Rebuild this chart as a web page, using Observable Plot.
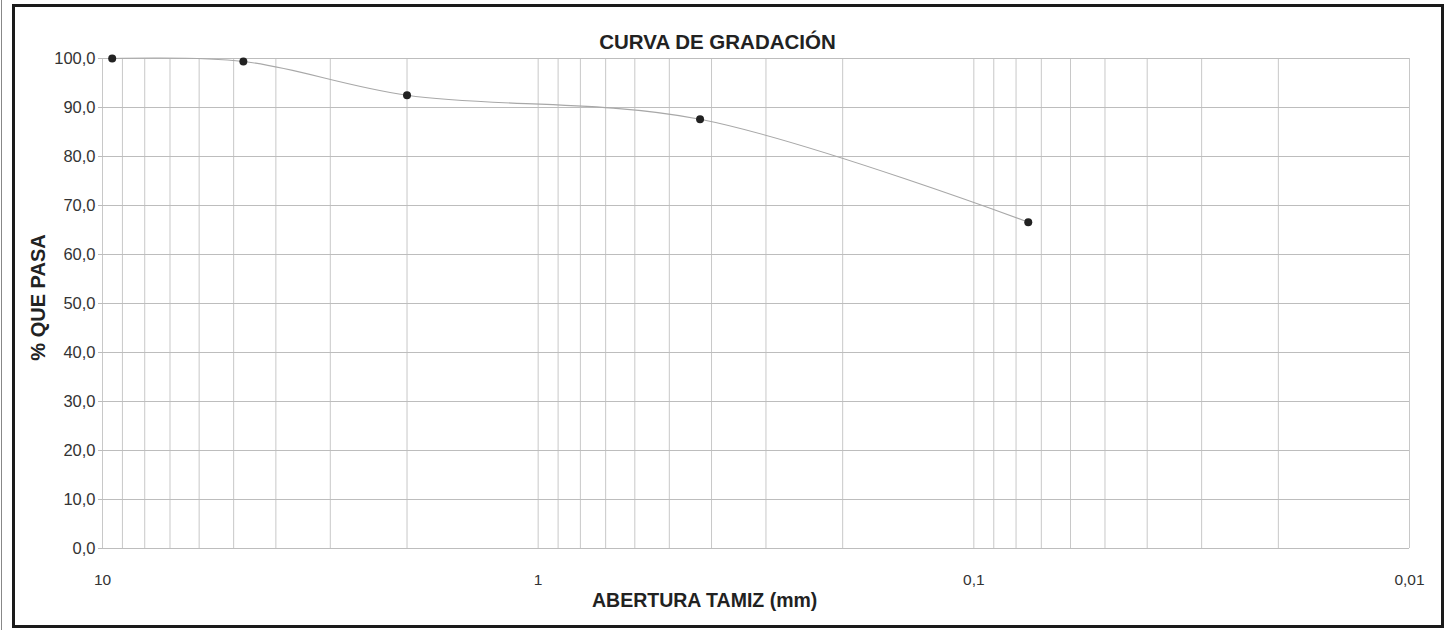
<!DOCTYPE html>
<html>
<head>
<meta charset="utf-8">
<script src="https://cdn.jsdelivr.net/npm/d3@7"></script>
<script src="https://cdn.jsdelivr.net/npm/@observablehq/plot@0.6"></script>
<style>
  html, body { margin: 0; padding: 0; background: #fff; }
  #wrap { position: relative; width: 1447px; height: 630px; overflow: hidden; background: #fff; font-family: "Liberation Sans", Arial, sans-serif; }
  #frame { position: absolute; left: 12px; top: 4px; width: 1426px; height: 618px; border: 3px solid #1a1a1a; box-sizing: content-box; }
  #edge { position: absolute; left: 1px; top: 0; width: 1px; height: 630px; background: #888; }
  #title { position: absolute; left: 0; width: 1447px; top: 30px; text-align: center; margin-left: -6px; font-weight: bold; font-size: 20.5px; color: #222; }
  #plot { position: absolute; left: 0; top: 0; }
</style>
</head>
<body>
<div id="wrap">
  <div id="edge"></div>
  <div id="frame"></div>
  <div id="title">CURVA DE GRADACIÓN</div>
  <div id="plot"></div>
</div>
<script>
// Data (sieve opening in mm, % passing)
const aberturas = [9.5, 4.75, 2.0, 0.425, 0.075];
const pasa = [100.0, 99.4, 92.5, 87.6, 66.6];

// Axis ticks
const xTicks = [10, 1, 0.1, 0.01];
const yTicks = [0, 10, 20, 30, 40, 50, 60, 70, 80, 90, 100];

// Log grid: multiples 1..9 of each decade
const decades = [1, 0.1, 0.01];
const multiples = [1, 2, 3, 4, 5, 6, 7, 8, 9];

const data = aberturas.map((a, i) => ({abertura: a, pasa: pasa[i]}));
const gridX = decades.flatMap(d => multiples.map(m => +(d * m).toPrecision(3))).concat([10]);

const fmtComma = d => String(d).replace(".", ",");

const chart = Plot.plot({
  width: 1447,
  height: 630,
  marginLeft: 102,
  marginRight: 38,
  marginTop: 58,
  marginBottom: 82,
  style: { fontFamily: "Liberation Sans, Arial, sans-serif", background: "transparent", color: "#333" },
  x: { type: "log", domain: [10, 0.01] },
  y: { domain: [0, 100] },
  marks: [
    Plot.ruleX(gridX, { stroke: "#c8c8c8", strokeWidth: 1 }),
    Plot.ruleY(yTicks, { stroke: "#bdbdbd", strokeWidth: 1 }),
    Plot.axisY(yTicks, {
      tickFormat: d => d.toFixed(1).replace(".", ","),
      tickSize: 4, tickPadding: 3, stroke: "#bbb",
      fontSize: 16.5, fill: "#333",
      label: "% QUE PASA", labelAnchor: "center", labelOffset: 72, labelArrow: false
    }),
    Plot.axisX(xTicks, {
      tickFormat: fmtComma, tickSize: 0, tickPadding: 25,
      fontSize: 15.5, fill: "#333",
      label: null
    }),
    Plot.line(data, { x: "abertura", y: "pasa", curve: "catmull-rom", stroke: "#a8a8a8", strokeWidth: 1.1 }),
    Plot.dot(data, { x: "abertura", y: "pasa", r: 4, fill: "#222", stroke: "none" })
  ]
});

document.getElementById("plot").appendChild(chart);

// enforce tick label sizes
const xLabels = new Set(xTicks.map(fmtComma));
chart.querySelectorAll("text").forEach(t => {
  if (xLabels.has(t.textContent.trim())) t.style.fontSize = "15.5px";
});

const xlabel = document.createElement("div");
xlabel.textContent = "ABERTURA TAMIZ (mm)";
Object.assign(xlabel.style, { position: "absolute", left: "592px", top: "589px", fontWeight: "bold", fontSize: "19.5px", color: "#222", whiteSpace: "nowrap" });
document.getElementById("wrap").appendChild(xlabel);

chart.querySelectorAll("text").forEach(t => {
  if (t.textContent === "% QUE PASA") {
    t.setAttribute("font-weight", "bold");
    t.setAttribute("font-size", "20");
    t.setAttribute("fill", "#222");
    const tr = t.getAttribute("transform") || "";
    t.setAttribute("transform", tr.replace(/translate\(([-\d.]+),([-\d.]+)\)/, (m, a, b) => `translate(${a},${+b - 6})`));
  }
});
</script>
</body>
</html>
